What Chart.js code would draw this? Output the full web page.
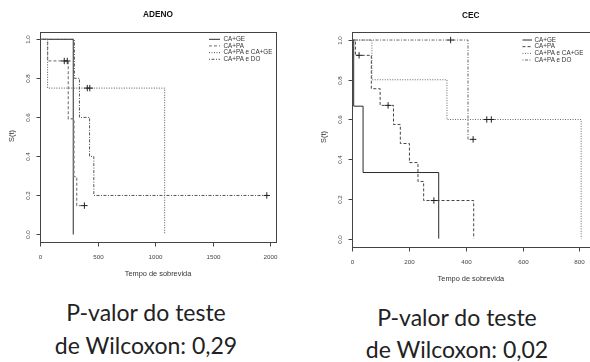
<!DOCTYPE html>
<html><head><meta charset="utf-8">
<script src="https://cdn.jsdelivr.net/npm/chart.js@4.4.0/dist/chart.umd.min.js"></script>
<style>
html,body{margin:0;padding:0;background:#fff;width:590px;height:362px;overflow:hidden;position:relative}
#c1{position:absolute;left:0;top:0}
#c2{position:absolute;left:295px;top:0}
.cap{position:absolute;font-family:Lato,"Open Sans",sans-serif;font-size:23px;color:#222;text-align:center;white-space:nowrap;width:240px}
</style></head><body>
<canvas id="c1" width="295" height="290"></canvas>
<canvas id="c2" width="300" height="290"></canvas>
<div class="cap" id="cap1" style="left:26px;top:296px;line-height:33px">P-valor do teste<br>de Wilcoxon: 0,29</div>
<div class="cap" id="cap2" style="left:337px;top:301px;line-height:32px">P-valor do teste<br>de Wilcoxon: 0,02</div>
<script>
// ---------- data ----------
const seriesNames = ['CA+GE', 'CA+PA', 'CA+PA e CA+GE', 'CA+PA e DO'];
const panelTitles = ['ADENO', 'CEC'];
const xAxisTitle = 'Tempo de sobrevida';
const yAxisTitle = 'S(t)';
const adenoXTicks = [0, 500, 1000, 1500, 2000];
const cecXTicks = [0, 200, 400, 600, 800];
const yTicks = [0, 0.2, 0.4, 0.6, 0.8, 1.0];
const yTickLabels = ['0.0', '0.2', '0.4', '0.6', '0.8', '1.0'];

// ADENO: event times (t) and survival (s); censored times (ct) and survival (cs)
const adenoGE_t = [0, 288];
const adenoGE_s = [1, 0];
const adenoGE_ct = [];
const adenoGE_cs = [];
const adenoPA_t = [0, 65, 245, 295, 318, 385];
const adenoPA_s = [1, 0.889, 0.593, 0.296, 0.148, 0.148];
const adenoPA_ct = [210, 236, 385];
const adenoPA_cs = [0.889, 0.889, 0.148];
const adenoPAGE_t = [0, 65, 1083];
const adenoPAGE_s = [1, 0.75, 0];
const adenoPAGE_ct = [410, 432];
const adenoPAGE_cs = [0.75, 0.75];
const adenoPADO_t = [0, 298, 342, 430, 467, 1971];
const adenoPADO_s = [1, 0.8, 0.6, 0.4, 0.2, 0.2];
const adenoPADO_ct = [1971];
const adenoPADO_cs = [0.2];

// CEC
const cecGE_t = [0, 6, 39, 305];
const cecGE_s = [1, 0.667, 0.333, 0];
const cecGE_ct = [];
const cecGE_cs = [];
const cecPA_t = [0, 12, 68, 99, 146, 170, 202, 232, 252, 428];
const cecPA_s = [1, 0.923, 0.755, 0.671, 0.575, 0.479, 0.383, 0.288, 0.192, 0];
const cecPA_ct = [25, 127, 288];
const cecPA_cs = [0.923, 0.671, 0.192];
const cecPAGE_t = [0, 70, 334, 806];
const cecPAGE_s = [1, 0.8, 0.6, 0];
const cecPAGE_ct = [474, 490];
const cecPAGE_cs = [0.6, 0.6];
const cecPADO_t = [0, 408, 426];
const cecPADO_s = [1, 0.5, 0.5];
const cecPADO_ct = [347, 426];
const cecPADO_cs = [1, 0.5];

// ---------- drawing ----------
const AX = '"Liberation Sans", Arial, sans-serif';

function pts(t, s) { return t.map((v, i) => ({x: v, y: s[i]})); }

function panel(id, P) {
  const datasets = [];
  P.series.forEach((s, i) => {
    const st = P.styles[i];
    datasets.push({
      type: 'line', label: seriesNames[i], data: pts(s.t, s.s), stepped: 'before',
      borderColor: st.color, borderWidth: st.width, borderDash: st.dash,
      pointRadius: 0, fill: false, tension: 0, order: 4 - i
    });
  });
  P.series.forEach((s, i) => {
    if (!s.ct.length) return;
    datasets.push({
      type: 'scatter', label: seriesNames[i] + ' censura', data: pts(s.ct, s.cs),
      pointStyle: 'cross', pointRadius: 3.2, borderColor: '#222', backgroundColor: '#222',
      borderWidth: 1, showLine: false, order: 0
    });
  });

  const rplot = {
    id: 'rplot',
    afterDraw(chart) {
      const ctx = chart.ctx, a = chart.chartArea;
      const xs = chart.scales.x, ys = chart.scales.y;
      ctx.save();
      ctx.setLineDash([]);
      ctx.strokeStyle = '#444';
      ctx.lineWidth = 1;
      const L = Math.round(a.left) + 0.5, T = Math.round(a.top) + 0.5;
      const R = Math.round(a.right) + 0.5, B = Math.round(a.bottom) + 0.5;
      ctx.strokeRect(L, T, R - L, B - T);
      // x ticks
      ctx.fillStyle = '#444';
      ctx.font = '6.2px ' + AX;
      ctx.textAlign = 'center';
      ctx.textBaseline = 'middle';
      P.xTicks.forEach(v => {
        const px = Math.round(xs.getPixelForValue(v)) + 0.5;
        ctx.beginPath(); ctx.moveTo(px, B); ctx.lineTo(px, B + 4); ctx.stroke();
        ctx.fillText(String(v), px, B + 14.5);
      });
      // y ticks
      yTicks.forEach((v, i) => {
        const py = Math.round(ys.getPixelForValue(v)) + 0.5;
        ctx.beginPath(); ctx.moveTo(L - 4, py); ctx.lineTo(L, py); ctx.stroke();
        ctx.save();
        ctx.translate(L - 12, py);
        ctx.rotate(-Math.PI / 2);
        ctx.fillText(yTickLabels[i], 0, 0);
        ctx.restore();
      });
      // title
      ctx.fillStyle = '#111';
      ctx.font = 'bold 8.3px ' + AX;
      ctx.fillText(P.title, (a.left + a.right) / 2, P.titleY);
      // axis titles
      ctx.fillStyle = '#333';
      ctx.font = '7.4px ' + AX;
      ctx.fillText(xAxisTitle, (a.left + a.right) / 2, B + 31.5);
      ctx.save();
      ctx.translate(L - 28.5, P.yTitleY);
      ctx.rotate(-Math.PI / 2);
      ctx.fillText(yAxisTitle, 0, 0);
      ctx.restore();
      // legend
      ctx.font = '6.3px ' + AX;
      ctx.textAlign = 'left';
      seriesNames.forEach((n, i) => {
        const st = P.styles[i];
        const yy = P.leg.y + i * 6.67;
        ctx.strokeStyle = st.color;
        ctx.lineWidth = st.width;
        ctx.setLineDash(st.dash);
        ctx.beginPath(); ctx.moveTo(P.leg.x1, yy); ctx.lineTo(P.leg.x2, yy); ctx.stroke();
        ctx.setLineDash([]);
        ctx.fillStyle = '#333';
        ctx.fillText(n, P.leg.tx, yy);
      });
      ctx.restore();
    }
  };

  return new Chart(document.getElementById(id), {
    type: 'line',
    data: {datasets},
    options: {
      responsive: false, animation: false, devicePixelRatio: 1,
      layout: {padding: P.pad},
      plugins: {legend: {display: false}, title: {display: false}, tooltip: {enabled: false}},
      scales: {
        x: {type: 'linear', min: P.xmin, max: P.xmax, display: false},
        y: {type: 'linear', min: -0.04, max: 1.04, display: false}
      }
    },
    plugins: [rplot]
  });
}

const adenoStyles = [
  {color: '#2a2a2a', width: 1, dash: []},
  {color: '#888', width: 1.3, dash: [3, 2]},
  {color: '#555', width: 1, dash: [1, 1.5]},
  {color: '#555', width: 1, dash: [1, 1.5, 3, 1.5]}
];
const cecStyles = [
  {color: '#2a2a2a', width: 1, dash: []},
  {color: '#444', width: 1, dash: [3, 2]},
  {color: '#666', width: 1, dash: [1, 1.5]},
  {color: '#666', width: 1, dash: [1, 1.5, 3, 1.5]}
];

panel('c1', {
  title: panelTitles[0], titleY: 14.5, yTitleY: 136,
  xTicks: adenoXTicks, xmin: -1, xmax: 2051,
  pad: {left: 40, top: 31.5, right: 19, bottom: 47.7},
  styles: adenoStyles,
  leg: {x1: 209, x2: 220, tx: 223.5, y: 39.3},
  series: [
    {t: adenoGE_t, s: adenoGE_s, ct: adenoGE_ct, cs: adenoGE_cs},
    {t: adenoPA_t, s: adenoPA_s, ct: adenoPA_ct, cs: adenoPA_cs},
    {t: adenoPAGE_t, s: adenoPAGE_s, ct: adenoPAGE_ct, cs: adenoPAGE_cs},
    {t: adenoPADO_t, s: adenoPADO_s, ct: adenoPADO_ct, cs: adenoPADO_cs}
  ]
});

panel('c2', {
  title: panelTitles[1], titleY: 15.5, yTitleY: 137,
  xTicks: cecXTicks, xmin: -1, xmax: 837,
  pad: {left: 56.7, top: 32.1, right: 4.1, bottom: 43.4},
  styles: cecStyles,
  leg: {x1: 227.5, x2: 237, tx: 239.5, y: 40},
  series: [
    {t: cecGE_t, s: cecGE_s, ct: cecGE_ct, cs: cecGE_cs},
    {t: cecPA_t, s: cecPA_s, ct: cecPA_ct, cs: cecPA_cs},
    {t: cecPAGE_t, s: cecPAGE_s, ct: cecPAGE_ct, cs: cecPAGE_cs},
    {t: cecPADO_t, s: cecPADO_s, ct: cecPADO_ct, cs: cecPADO_cs}
  ]
});
</script>
</body></html>
